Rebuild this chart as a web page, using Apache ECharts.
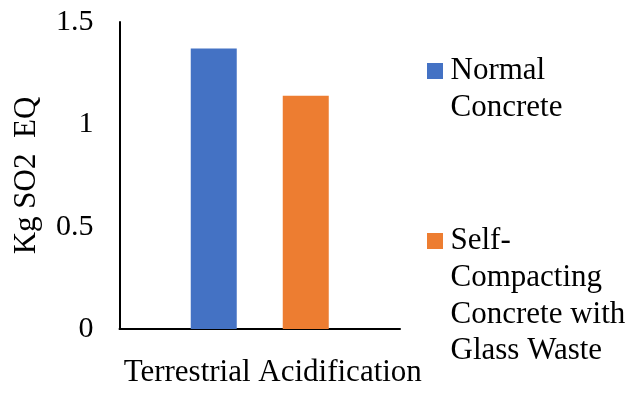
<!DOCTYPE html>
<html>
<head>
<meta charset="utf-8">
<script src="https://cdn.jsdelivr.net/npm/echarts@6/dist/echarts.min.js"></script>
<style>
  html, body { margin: 0; padding: 0; background: #fff; }
  #chart { width: 635px; height: 393px; }
</style>
</head>
<body>
<div id="chart"></div>
<script>
// Terrestrial acidification impact (kg SO2 eq) of the two concrete mixes
const categories = ['Terrestrial Acidification'];
const seriesNames = ['Normal Concrete', 'Self-Compacting Concrete with Glass Waste'];
const legendLabels = ['Normal\nConcrete', 'Self-\nCompacting\nConcrete with\nGlass Waste'];
const normalConcrete = [1.37];
const sccGlassWaste = [1.14];
const yTicks = [0, 0.5, 1, 1.5];

const FONT = "'Liberation Serif'";
const LINE_H = 36.7;
const colors = ['#4472C4', '#ED7D31'];

// The legend centres its text on the icon; padding the label with blank
// lines above keeps the icon level with the first line of text.
function legendText(name) {
  const label = legendLabels[seriesNames.indexOf(name)];
  const n = label.split('\n').length;
  return ' \n'.repeat(n - 1) + label;
}

function legendBlock(idx, iconCenterY) {
  const n = legendLabels[idx].split('\n').length;
  return {
    orient: 'vertical',
    left: 427,
    top: iconCenterY - (2 * n - 1) * LINE_H / 2,
    padding: 0,
    icon: 'rect',
    itemWidth: 16,
    itemHeight: 16,
    itemGap: 0,
    data: [seriesNames[idx]],
    formatter: legendText,
    textStyle: {
      fontFamily: FONT,
      fontSize: 31,
      lineHeight: LINE_H,
      color: '#000',
      padding: [0, 0, 0, 2.5]
    }
  };
}

const chart = echarts.init(document.getElementById('chart'), null, { renderer: 'canvas' });
chart.setOption({
  animation: false,
  backgroundColor: '#fff',
  color: colors,
  textStyle: { fontFamily: FONT },
  grid: { left: 119.5, right: 235, top: 22, bottom: 64, containLabel: false },
  legend: [legendBlock(0, 71), legendBlock(1, 241)],
  xAxis: {
    type: 'category',
    data: categories,
    axisLine: { show: true, lineStyle: { color: '#000', width: 2 } },
    axisTick: { show: false },
    axisLabel: {
      fontFamily: FONT,
      fontSize: 31,
      lineHeight: 31,
      color: '#000',
      margin: 28,
      padding: [0, 0, 0, 26]
    }
  },
  yAxis: {
    type: 'value',
    min: yTicks[0],
    max: yTicks[yTicks.length - 1],
    interval: yTicks[1] - yTicks[0],
    name: 'Kg SO2  EQ',
    nameLocation: 'middle',
    nameRotate: 90,
    nameGap: 77.5,
    nameTextStyle: { fontFamily: FONT, fontSize: 31, lineHeight: 31, color: '#000' },
    axisLine: { show: true, lineStyle: { color: '#000', width: 2 } },
    axisTick: { show: false },
    splitLine: { show: false },
    axisLabel: {
      fontFamily: FONT,
      fontSize: 30,
      color: '#000',
      margin: 26,
      formatter: function (v) { return String(v); }
    }
  },
  series: [
    {
      name: seriesNames[0],
      type: 'bar',
      data: normalConcrete,
      barWidth: 46,
      barGap: '100%',
      itemStyle: { color: colors[0] }
    },
    {
      name: seriesNames[1],
      type: 'bar',
      data: sccGlassWaste,
      barWidth: 46,
      barGap: '100%',
      itemStyle: { color: colors[1] }
    }
  ]
});
</script>
</body>
</html>
